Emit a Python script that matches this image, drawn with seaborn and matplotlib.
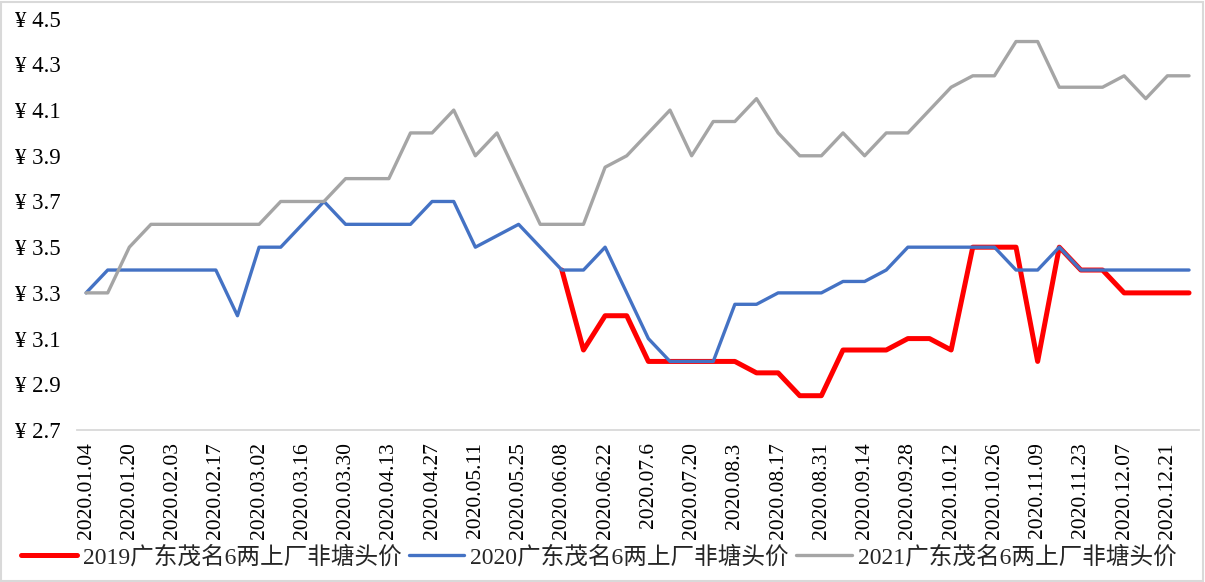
import numpy as np
import pandas as pd
import seaborn as sns
import matplotlib.pyplot as plt
from matplotlib.patches import Rectangle

# --- data ---
dates = ["2020.01.04", "2020.01.13", "2020.01.20", "2020.01.27", "2020.02.03", "2020.02.10",
         "2020.02.17", "2020.02.24", "2020.03.02", "2020.03.09", "2020.03.16", "2020.03.23",
         "2020.03.30", "2020.04.06", "2020.04.13", "2020.04.20", "2020.04.27", "2020.05.04",
         "2020.05.11", "2020.05.18", "2020.05.25", "2020.06.01", "2020.06.08", "2020.06.15",
         "2020.06.22", "2020.06.29", "2020.07.6", "2020.07.13", "2020.07.20", "2020.07.27",
         "2020.08.3", "2020.08.10", "2020.08.17", "2020.08.24", "2020.08.31", "2020.09.07",
         "2020.09.14", "2020.09.21", "2020.09.28", "2020.10.05", "2020.10.12", "2020.10.19",
         "2020.10.26", "2020.11.02", "2020.11.09", "2020.11.16", "2020.11.23", "2020.11.30",
         "2020.12.07", "2020.12.14", "2020.12.21", "2020.12.28"]

price_2019 = [np.nan] * 22 + [3.4, 3.05, 3.2, 3.2, 3.0, 3.0, 3.0, 3.0, 3.0, 2.95,
                              2.95, 2.85, 2.85, 3.05, 3.05, 3.05, 3.1, 3.1, 3.05, 3.5,
                              3.5, 3.5, 3.0, 3.5, 3.4, 3.4, 3.3, 3.3, 3.3, 3.3]

price_2020 = [3.3, 3.4, 3.4, 3.4, 3.4, 3.4, 3.4, 3.2, 3.5, 3.5,
              3.6, 3.7, 3.6, 3.6, 3.6, 3.6, 3.7, 3.7, 3.5, 3.55,
              3.6, 3.5, 3.4, 3.4, 3.5, 3.3, 3.1, 3.0, 3.0, 3.0,
              3.25, 3.25, 3.3, 3.3, 3.3, 3.35, 3.35, 3.4, 3.5, 3.5,
              3.5, 3.5, 3.5, 3.4, 3.4, 3.5, 3.4, 3.4, 3.4, 3.4,
              3.4, 3.4]

price_2021 = [3.3, 3.3, 3.5, 3.6, 3.6, 3.6, 3.6, 3.6, 3.6, 3.7,
              3.7, 3.7, 3.8, 3.8, 3.8, 4.0, 4.0, 4.1, 3.9, 4.0,
              3.8, 3.6, 3.6, 3.6, 3.85, 3.9, 4.0, 4.1, 3.9, 4.05,
              4.05, 4.15, 4.0, 3.9, 3.9, 4.0, 3.9, 4.0, 4.0, 4.1,
              4.2, 4.25, 4.25, 4.4, 4.4, 4.2, 4.2, 4.2, 4.25, 4.15,
              4.25, 4.25]

series_names = ["2019广东茂名6两上厂非塘头价",
                "2020广东茂名6两上厂非塘头价",
                "2021广东茂名6两上厂非塘头价"]
colors = ["#FF0000", "#4472C4", "#A5A5A5"]
widths = [3.6, 2.4, 2.4]

y_ticks = [2.7, 2.9, 3.1, 3.3, 3.5, 3.7, 3.9, 4.1, 4.3, 4.5]

# --- plot ---
sns.set_style("white")
plt.rcParams["font.family"] = ["Liberation Serif", "Noto Sans CJK SC", "DejaVu Sans"]

fig = plt.figure(figsize=(12.05, 5.82), dpi=100)
ax = fig.add_axes([0.0639, 0.2612, 0.9311, 0.7067])

x_idx = np.arange(len(dates))
for name, vals, col, lw in zip(series_names, [price_2019, price_2020, price_2021], colors, widths):
    df = pd.DataFrame({"x": x_idx, "price": vals}).dropna()
    sns.lineplot(data=df, x="x", y="price", ax=ax, color=col, linewidth=lw,
                 label=name, sort=False)

ax.set_xlim(-0.42, 51.46)
ax.set_ylim(2.7, 4.5)
ax.set_yticks(y_ticks)
ax.set_yticklabels([f"¥ {v:.1f}" for v in y_ticks])
ax.set_xticks(x_idx[::2])
ax.set_xticklabels(dates[::2], rotation=90)
ax.tick_params(axis="y", length=0, pad=12, labelsize=16.5, colors="#000000")
ax.tick_params(axis="x", length=0, pad=9, labelsize=15.5, colors="#000000")
ax.set_xlabel("")
ax.set_ylabel("")

for s in ["top", "right", "left"]:
    ax.spines[s].set_visible(False)
ax.spines["bottom"].set_color("#D9D9D9")
ax.spines["bottom"].set_linewidth(1.3)

ax.legend(loc="center", bbox_to_anchor=(0.497, 0.043), bbox_transform=fig.transFigure,
          ncol=3, frameon=False, fontsize=17, handlelength=2.36, handletextpad=0.25,
          columnspacing=0.3, borderpad=0, borderaxespad=0)

fig.add_artist(Rectangle((0.001, 0.002), 0.997, 0.995, transform=fig.transFigure,
                         fill=False, edgecolor="#D9D9D9", linewidth=1.5))

plt.savefig("out.png", dpi=100)
